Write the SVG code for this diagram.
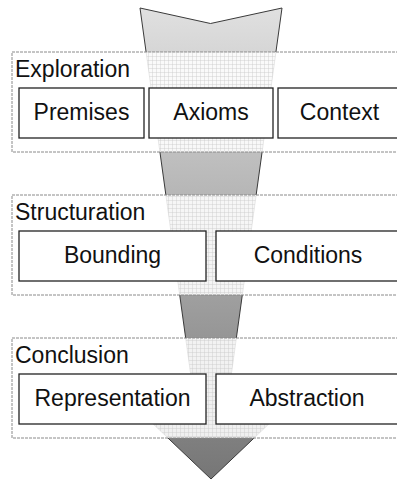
<svg xmlns="http://www.w3.org/2000/svg" width="397" height="480" viewBox="0 0 397 480">
<style>
.txt{font-family:"Liberation Sans",Arial,sans-serif;font-size:23px;fill:#111}
.lbl{text-anchor:start}
.ctr{text-anchor:middle}
.cont{fill:#fff;fill-opacity:0.88;stroke:#8a8a8a;stroke-width:1;stroke-dasharray:3 1}
.box{fill:#fff;stroke:#222;stroke-width:1.3}
</style>
<defs>
<linearGradient id="fade" gradientUnits="userSpaceOnUse" x1="0" y1="8" x2="0" y2="479">
<stop offset="0" stop-color="#e0e0e0"/>
<stop offset="1" stop-color="#767676"/>
</linearGradient>
<pattern id="grid" patternUnits="userSpaceOnUse" width="4" height="4">
<path d="M0 0.5H4M0.5 0V4" stroke="#c8c8c8" stroke-width="1" stroke-opacity="0.4" fill="none"/>
</pattern>
<clipPath id="contClip">
<rect x="12" y="52" width="400" height="100"/>
<rect x="12" y="195" width="400" height="100"/>
<rect x="12" y="338" width="400" height="100"/>
</clipPath>
<path id="arrowShape" d="M140 8L210.5 23.5L282 8L225 420L273 420L211 479L149 420L197 420Z"/>
</defs>
<g id="connectors">
<use href="#arrowShape" fill="url(#fade)" stroke="#3a3a3a" stroke-width="1"/>
</g>
<g id="containers">
<rect class="cont" x="12" y="52" width="400" height="100"/>
<rect class="cont" x="12" y="195" width="400" height="100"/>
<rect class="cont" x="12" y="338" width="400" height="100"/>
<use href="#arrowShape" fill="url(#grid)" clip-path="url(#contClip)"/>
</g>
<g id="exploration">
<text class="txt lbl" x="15" y="77">Exploration</text>
</g>
<g id="premises">
<rect class="box" x="19" y="88" width="125" height="50"/>
<text class="txt ctr" x="81.5" y="119.5">Premises</text>
</g>
<g id="axioms">
<rect class="box" x="149" y="88" width="124" height="50"/>
<text class="txt ctr" x="211" y="119.5">Axioms</text>
</g>
<g id="context">
<rect class="box" x="278" y="88" width="123" height="50"/>
<text class="txt ctr" x="339.5" y="119.5">Context</text>
</g>
<g id="structuration">
<text class="txt lbl" x="15" y="220">Structuration</text>
</g>
<g id="bounding">
<rect class="box" x="19" y="231" width="187" height="50"/>
<text class="txt ctr" x="112.5" y="262.5">Bounding</text>
</g>
<g id="conditions">
<rect class="box" x="216" y="231" width="186" height="50"/>
<text class="txt ctr" x="308" y="262.5">Conditions</text>
</g>
<g id="conclusion">
<text class="txt lbl" x="15" y="363">Conclusion</text>
</g>
<g id="representation">
<rect class="box" x="19" y="374" width="187" height="50"/>
<text class="txt ctr" x="112.5" y="406">Representation</text>
</g>
<g id="abstraction">
<rect class="box" x="216" y="374" width="186" height="50"/>
<text class="txt ctr" x="307" y="406">Abstraction</text>
</g>
</svg>
